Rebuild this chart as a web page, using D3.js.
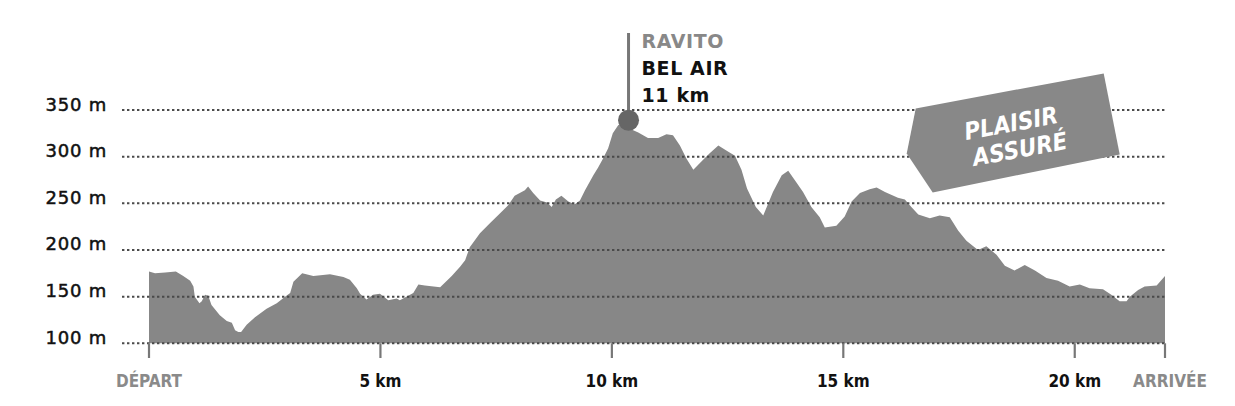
<!DOCTYPE html>
<html>
<head>
<meta charset="utf-8">
<script src="https://cdn.jsdelivr.net/npm/d3@7"></script>
<style>
  body { margin: 0; background: #fff; }
  svg { display: block; }
</style>
</head>
<body>
<div id="chart"></div>
<script>
// profil altimétrique : distance (km) / altitude (m)
const dist = [0, 0.13, 0.35, 0.58, 0.74, 0.89, 0.96, 0.99, 1.09, 1.14, 1.21, 1.28, 1.35, 1.53, 1.68, 1.79, 1.86, 1.93, 1.99, 2.11,
  2.29, 2.54, 2.76, 2.94, 3.05, 3.12, 3.31, 3.55, 3.91, 4.20, 4.34, 4.49, 4.56, 4.70, 4.84, 4.99, 5.17, 5.35,
  5.42, 5.60, 5.71, 5.82, 5.96, 6.29, 6.54, 6.72, 6.83, 6.93, 7.15, 7.37, 7.58, 7.76, 7.90, 8.12, 8.19, 8.30,
  8.45, 8.60, 8.70, 8.79, 8.91, 9.06, 9.20, 9.31, 9.42, 9.60, 9.70, 9.81, 9.92, 10.02, 10.14, 10.24, 10.39, 10.57, 10.78,
  11.00, 11.18, 11.32, 11.47, 11.61, 11.76, 11.94, 12.12, 12.30, 12.49, 12.66, 12.80, 12.92, 13.11, 13.27, 13.38,
  13.48, 13.67, 13.81, 13.95, 14.13, 14.31, 14.49, 14.60, 14.85, 15.03, 15.18, 15.36, 15.57, 15.72, 15.90,
  16.18, 16.33, 16.47, 16.62, 16.87, 17.08, 17.30, 17.48, 17.66, 17.91, 18.09, 18.31, 18.49, 18.70, 18.92,
  19.14, 19.39, 19.64, 19.89, 20.11, 20.32, 20.61, 20.79, 20.97, 21.12, 21.19, 21.37, 21.51, 21.77, 21.95];
const alt = [177, 175, 176, 177, 172, 167, 161, 150, 143, 145, 152, 151, 141, 130, 124, 122, 114, 112, 112, 120,
  128, 137, 143, 150, 154, 166, 175, 172, 174, 171, 168, 159, 153, 147, 152, 153, 146, 148,
  146, 151, 154, 163, 162, 160, 172, 182, 189, 203, 218, 229, 239, 248, 258, 264, 268, 261, 253,
  251, 246, 254, 258, 252, 249, 253, 264, 280, 288, 298, 309, 325, 334, 334, 330, 326, 320, 320,
  324, 323, 312, 298, 286, 295, 304, 312, 306, 301, 286, 266, 246, 237, 250, 262,
  280, 285, 275, 262, 246, 235, 224, 226, 236, 252, 261, 265, 267, 262, 256,
  254, 246, 238, 234, 237, 235, 221, 210, 200, 204, 195, 183, 178, 184, 178,
  170, 167, 161, 163, 159, 158, 152, 145, 145, 150, 157, 161, 162, 172, 177];

const yTicks = [100, 150, 200, 250, 300, 350];
const xTicks = [0, 5, 10, 15, 20, 21.95];
const xTickLabels = ["DÉPART", "5 km", "10 km", "15 km", "20 km", "ARRIVÉE"];

const ravito = { km: 10.36, alt: 339, lines: ["RAVITO", "BEL AIR", "11 km"] };
const badge = { km: 18.66, alt: 326, lines: ["PLAISIR", "ASSURÉ"] };

const w = 1235, h = 406;
const svg = d3.select("#chart").append("svg").attr("width", w).attr("height", h);

const x = d3.scaleLinear().domain([0, 21.95]).range([149, 1165]);
const y = d3.scaleLinear().domain([100, 350]).range([343.3, 110]);

const data = dist.map((d, i) => ({ km: d, alt: alt[i] }));

// area
const area = d3.area().x(d => x(d.km)).y0(y(100)).y1(d => y(d.alt));
svg.append("path").datum(data).attr("d", area).attr("fill", "#878787");

// grid (dotted) on top of the area
svg.append("g").selectAll("line").data(yTicks).enter().append("line")
  .attr("x1", 122).attr("x2", x(21.95))
  .attr("y1", d => y(d)).attr("y2", d => y(d))
  .attr("stroke", "#4a4a4a").attr("stroke-width", 2)
  .attr("stroke-dasharray", "2.4,2.6");

// y labels
svg.append("g").selectAll("text").data(yTicks).enter().append("text")
  .attr("x", 107).attr("y", d => y(d) + 0.5)
  .attr("text-anchor", "end")
  .attr("font-family", "'DejaVu Sans', sans-serif")
  .attr("font-size", 18).attr("letter-spacing", 0.8).attr("fill", "#111")
  .attr("stroke", "#111").attr("stroke-width", 0.5)
  .text(d => d + " m");

// x ticks
const xt = svg.append("g");
xt.selectAll("line").data(xTicks).enter().append("line")
  .attr("x1", d => x(d)).attr("x2", d => x(d))
  .attr("y1", y(100)).attr("y2", 358)
  .attr("stroke", "#777").attr("stroke-width", 2.2);
xt.selectAll("text").data(xTicks).enter().append("text")
  .attr("x", (d, i) => x(d) + (i === xTicks.length - 1 ? 5 : 0)).attr("y", 387)
  .attr("text-anchor", "middle")
  .attr("font-family", "'Liberation Sans Narrow', 'DejaVu Sans Condensed', sans-serif")
  .attr("font-weight", "bold").attr("font-size", 17)
  .attr("fill", (d, i) => (i === 0 || i === xTicks.length - 1) ? "#8a8a8a" : "#111")
  .text((d, i) => xTickLabels[i]);

// ravito marker
const rx = x(ravito.km), ry = y(ravito.alt);
svg.append("line").attr("x1", rx).attr("x2", rx).attr("y1", 33).attr("y2", ry)
  .attr("stroke", "#777").attr("stroke-width", 3);
svg.append("circle").attr("cx", rx).attr("cy", ry).attr("r", 10.5).attr("fill", "#666");
svg.append("g").selectAll("text").data(ravito.lines).enter().append("text")
  .attr("x", rx + 13).attr("y", (d, i) => 48 + i * 27)
  .attr("font-family", "'DejaVu Sans', sans-serif").attr("font-weight", "bold")
  .attr("font-size", 19).attr("letter-spacing", 0.6)
  .attr("fill", (d, i) => i === 0 ? "#888" : "#111")
  .text(d => d);

// badge "plaisir assuré"
const bx = x(badge.km), by = y(badge.alt);
const bg = svg.append("g").attr("transform", `translate(${bx},${by})`);
bg.append("polygon")
  .attr("points", "-97,-24 91,-59 107,22 -80,60 -106,21")
  .attr("fill", "#888");
bg.append("g").attr("transform", "rotate(-10.5)")
  .selectAll("text").data(badge.lines).enter().append("text")
  .attr("x", (d, i) => i * 4).attr("y", (d, i) => -1 + i * 27)
  .attr("text-anchor", "middle")
  .attr("font-family", "'DejaVu Sans Condensed', sans-serif").attr("font-weight", "bold")
  .attr("font-style", "italic").attr("font-size", 24)
  .attr("fill", "#fff")
  .text(d => d);
</script>
</body>
</html>
